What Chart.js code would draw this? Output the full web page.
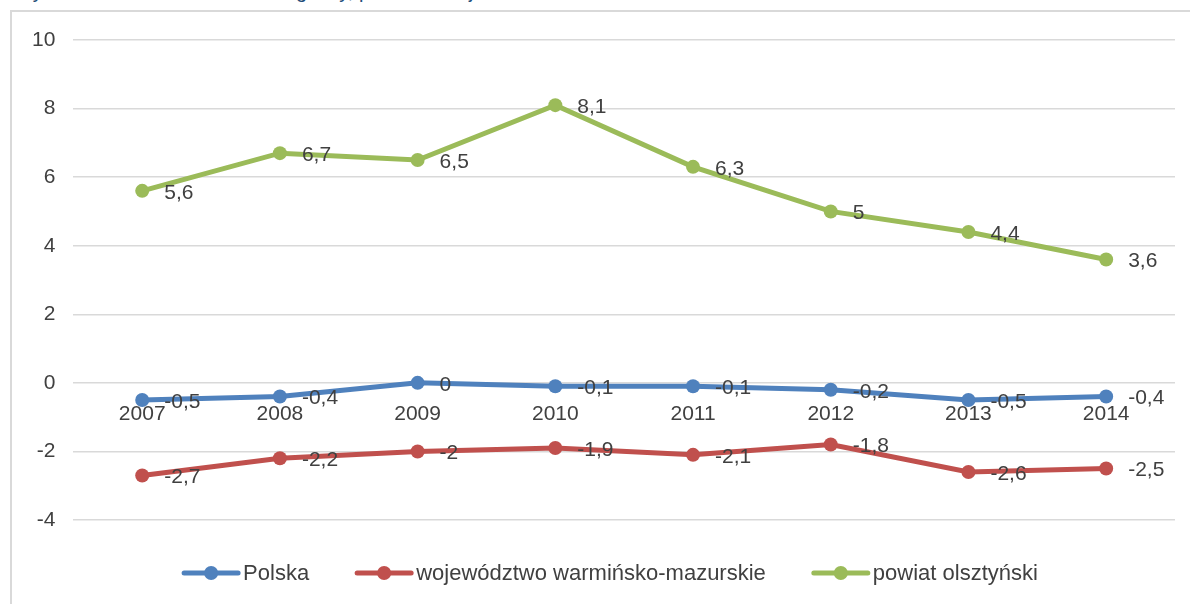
<!DOCTYPE html>
<html>
<head>
<meta charset="utf-8">
<script src="https://cdn.jsdelivr.net/npm/chart.js@4"></script>
<style>
  html, body { margin: 0; padding: 0; background: #fff; overflow: hidden; }
  #wrap { position: relative; width: 1190px; height: 604px; }
  #frame { position: absolute; left: 10px; top: 10px; width: 1200px; height: 700px; border: 2px solid #d9d9d9; box-sizing: border-box; }
  .title { position: absolute; top: -19px; font: 20px "Liberation Sans", Arial, sans-serif; line-height: 20px; color: #1f4e79; white-space: nowrap; }
  canvas { position: absolute; left: 0; top: 0; }
</style>
</head>
<body>
<div id="wrap">
  <span class="title" style="left: 14px;">Wykres 7. Saldo na 1000 osób dla</span>
  <span class="title" style="left: 296px;">gminy, powiatu i województwa</span>
  <div id="frame"></div>
  <canvas id="chart" width="1190" height="604"></canvas>
</div>
<script>
// chart data
var years = ['2007', '2008', '2009', '2010', '2011', '2012', '2013', '2014'];
var polska = [-0.5, -0.4, 0, -0.1, -0.1, -0.2, -0.5, -0.4];
var wojewodztwo = [-2.7, -2.2, -2, -1.9, -2.1, -1.8, -2.6, -2.5];
var powiat = [5.6, 6.7, 6.5, 8.1, 6.3, 5, 4.4, 3.6];
var yTicks = [10, 8, 6, 4, 2, 0, -2, -4];

var FONT = '"Liberation Sans", Arial, sans-serif';
var TEXT = '#404040';

// value labels right of each point, with comma decimals
var valueLabels = {
    id: 'valueLabels',
    afterDatasetsDraw: function(chart) {
        var ctx = chart.ctx;
        ctx.save();
        ctx.font = '21px ' + FONT;
        ctx.fillStyle = TEXT;
        ctx.textAlign = 'left';
        ctx.textBaseline = 'middle';
        chart.data.datasets.forEach(function(ds, i) {
            chart.getDatasetMeta(i).data.forEach(function(pt, j) {
                var txt = String(ds.data[j]).replace('.', ',');
                ctx.fillText(txt, pt.x + 22, pt.y + 2);
            });
        });
        ctx.restore();
    }
};

// Excel-like legend: line with a dot, then the series name
var lineLegend = {
    id: 'lineLegend',
    afterDraw: function(chart) {
        var ctx = chart.ctx;
        var lineW = 58, textGap = 3, itemGap = 46, y = 573;
        ctx.save();
        ctx.font = '22px ' + FONT;
        var items = chart.data.datasets.map(function(ds) {
            return { ds: ds, w: ctx.measureText(ds.label).width };
        });
        var total = 0;
        items.forEach(function(it, i) {
            total += lineW + textGap + it.w + (i > 0 ? itemGap : 0);
        });
        var x = 610 - total / 2;
        items.forEach(function(it) {
            var c = it.ds.borderColor;
            ctx.strokeStyle = c;
            ctx.lineWidth = 5;
            ctx.lineCap = 'round';
            ctx.beginPath(); ctx.moveTo(x + 2, y); ctx.lineTo(x + lineW - 2, y); ctx.stroke();
            ctx.fillStyle = c;
            ctx.beginPath(); ctx.arc(x + lineW / 2, y, 7, 0, Math.PI * 2); ctx.fill();
            ctx.fillStyle = TEXT;
            ctx.textAlign = 'left';
            ctx.textBaseline = 'middle';
            ctx.fillText(it.ds.label, x + lineW + textGap, y + 1);
            x += lineW + textGap + it.w + itemGap;
        });
        ctx.restore();
    }
};

function series(label, data, color) {
    return {
        label: label,
        data: data,
        borderColor: color,
        backgroundColor: color,
        borderWidth: 5,
        pointRadius: 7,
        pointHoverRadius: 7,
        pointBorderWidth: 0,
        tension: 0
    };
}

new Chart(document.getElementById('chart'), {
    type: 'line',
    data: {
        labels: years,
        datasets: [
            series('Polska', polska, '#4f81bd'),
            series('województwo warmińsko-mazurskie', wojewodztwo, '#c0504d'),
            series('powiat olsztyński', powiat, '#9bbb59')
        ]
    },
    plugins: [valueLabels, lineLegend],
    options: {
        responsive: false,
        animation: false,
        layout: { padding: { left: 14, right: 15, top: 40, bottom: 84 } },
        scales: {
            x: {
                position: { y: 0 },
                offset: true,
                grid: { display: false, drawTicks: false },
                border: { display: false },
                ticks: { color: TEXT, font: { family: FONT, size: 21 }, padding: 19, maxRotation: 0 }
            },
            y: {
                min: -4,
                max: 10,
                afterBuildTicks: function(axis) {
                    axis.ticks = yTicks.map(function(v) { return { value: v }; });
                },
                grid: { color: '#d9d9d9', lineWidth: 1.5, drawTicks: false },
                border: { display: false },
                ticks: { color: TEXT, font: { family: FONT, size: 21 }, padding: 18 }
            }
        },
        plugins: {
            tooltip: { enabled: false },
            legend: { display: false }
        }
    }
});
</script>
</body>
</html>
